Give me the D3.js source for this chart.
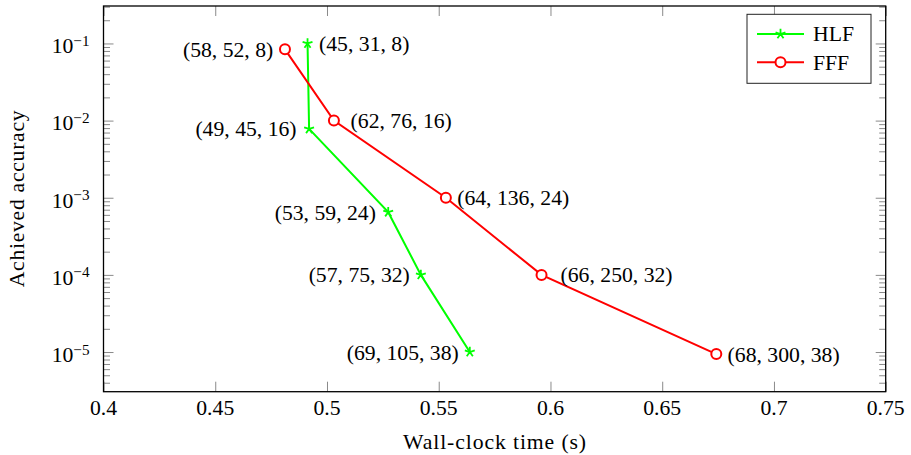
<!DOCTYPE html>
<html>
<head>
<meta charset="utf-8">
<script src="https://cdn.jsdelivr.net/npm/d3@7"></script>
<style>
	body { margin: 0; background: #fff; }
	svg text { font-family: "Liberation Serif", serif; fill: #000; }
</style>
</head>
<body>
<div id="chart"></div>
<script>
// wall-clock time vs achieved accuracy

var seriesNames = ["HLF", "FFF"];

var hlfTime = [0.4913, 0.4920, 0.5274, 0.5420, 0.5639];
var hlfAcc = [0.1, 0.0078, 6.5e-4, 1e-4, 1e-5];
var hlfLabels = ["(45, 31, 8)", "(49, 45, 16)", "(53, 59, 24)", "(57, 75, 32)", "(69, 105, 38)"];

var fffTime = [0.4812, 0.5031, 0.5532, 0.5960, 0.6742];
var fffAcc = [0.084, 0.01, 1e-3, 1e-4, 9.4e-6];
var fffLabels = ["(58, 52, 8)", "(62, 76, 16)", "(64, 136, 24)", "(66, 250, 32)", "(68, 300, 38)"];

var xTicks = [0.4, 0.45, 0.5, 0.55, 0.6, 0.65, 0.7, 0.75];
var xTickLabels = ["0.4", "0.45", "0.5", "0.55", "0.6", "0.65", "0.7", "0.75"];
var yTickExps = [-1, -2, -3, -4, -5];

// label placement: side of the point and gap in px
var hlfSide = ["right", "left", "left", "left", "left"];
var hlfGap = [11.5, 12.5, 12.3, 11, 11];
var fffSide = ["left", "right", "right", "right", "right"];
var fffGap = [11.7, 16.7, 11.3, 19, 11.3];

function drawChart() {
	var width = 911,
		height = 455,
		left = 103.5,
		right = 885.7,
		top = 6,
		bottom = 391.7,
		fs = 21.7,
		majorLen = 10,
		minorLen = 6.5;

	var xs = d3.scaleLinear().domain([0.4, 0.75]).range([left, right]);
	var ys = d3.scaleLog().domain([3.06e-6, 0.306]).range([bottom, top]);

	var svg = d3.select("#chart")
		.append("svg")
		.attr("width", width)
		.attr("height", height)
		.style("background", "#fff");

	// minor + major y ticks
	var yMinor = [], yMajor = [];
	for (var k = -6; k <= 0; k++) {
		for (var m = 1; m <= 9; m++) {
			var v = m * Math.pow(10, k);
			if (v < ys.domain()[0] || v > ys.domain()[1]) continue;
			if (m == 1) yMajor.push(v); else yMinor.push(v);
		}
	}

	function styleTicks(g) {
		g.select(".domain").remove();
		g.selectAll("line").attr("stroke", "#8a8a8a").attr("stroke-width", 1);
		g.selectAll("text").remove();
	}

	svg.append("g").attr("transform", "translate(0," + bottom + ")")
		.call(d3.axisBottom(xs).tickValues(xTicks).tickSizeInner(-majorLen).tickSizeOuter(0))
		.call(styleTicks);
	svg.append("g").attr("transform", "translate(0," + top + ")")
		.call(d3.axisTop(xs).tickValues(xTicks).tickSizeInner(-majorLen).tickSizeOuter(0))
		.call(styleTicks);

	[[yMajor, majorLen], [yMinor, minorLen]].forEach(function(t) {
		svg.append("g").attr("transform", "translate(" + left + ",0)")
			.call(d3.axisLeft(ys).tickValues(t[0]).tickSizeInner(-t[1]).tickSizeOuter(0))
			.call(styleTicks);
		svg.append("g").attr("transform", "translate(" + right + ",0)")
			.call(d3.axisRight(ys).tickValues(t[0]).tickSizeInner(-t[1]).tickSizeOuter(0))
			.call(styleTicks);
	});

	// frame
	svg.append("rect")
		.attr("x", left)
		.attr("y", top)
		.attr("width", right - left)
		.attr("height", bottom - top)
		.attr("fill", "none")
		.attr("stroke", "#000")
		.attr("stroke-width", 1.3);

	// tick labels
	svg.selectAll("text.xt")
		.data(xTicks)
		.enter().append("text")
		.attr("class", "xt")
		.attr("x", function(d) { return xs(d); })
		.attr("y", 414.5)
		.attr("text-anchor", "middle")
		.attr("font-size", fs)
		.text(function(d, i) { return xTickLabels[i]; });

	var yt = svg.selectAll("text.yt")
		.data(yTickExps)
		.enter().append("text")
		.attr("class", "yt")
		.attr("x", 89.5)
		.attr("y", function(d) { return ys(Math.pow(10, d)) + 9.8; })
		.attr("text-anchor", "end")
		.attr("font-size", fs);
	yt.append("tspan").text("10");
	yt.append("tspan")
		.attr("dy", -7.3)
		.attr("font-size", 15.2)
		.text(function(d) { return "\u2212" + Math.abs(d); });

	// axis titles
	svg.append("text")
		.attr("x", (left + right) / 2)
		.attr("y", 448.5)
		.attr("text-anchor", "middle")
		.attr("font-size", fs)
		.attr("textLength", 183)
		.text("Wall-clock time (s)");

	svg.append("text")
		.attr("transform", "translate(24," + ((top + bottom) / 2) + ") rotate(-90)")
		.attr("text-anchor", "middle")
		.attr("font-size", fs)
		.attr("textLength", 177)
		.text("Achieved accuracy");

	var line = d3.line()
		.x(function(d) { return xs(d[0]); })
		.y(function(d) { return ys(d[1]); });

	var starPath = d3.symbol().type(function() {
		return {
			draw: function(ctx, size) {
				var r = 5.2;
				for (var i = 0; i < 5; i++) {
					var a = -Math.PI / 2 + i * 2 * Math.PI / 5;
					ctx.moveTo(0, 0);
					ctx.lineTo(r * Math.cos(a), r * Math.sin(a));
				}
			}
		};
	}());

	var series = [
		{name: seriesNames[0], x: hlfTime, y: hlfAcc, labels: hlfLabels, side: hlfSide, gap: hlfGap, color: "#00ff00", mark: "star"},
		{name: seriesNames[1], x: fffTime, y: fffAcc, labels: fffLabels, side: fffSide, gap: fffGap, color: "#ff0000", mark: "circle"}
	];

	function drawMark(g, s) {
		if (s.mark == "star") {
			g.append("path")
				.attr("d", starPath())
				.attr("fill", "none")
				.attr("stroke", s.color)
				.attr("stroke-width", 1.8);
		} else {
			g.append("circle")
				.attr("r", 5)
				.attr("fill", "#fff")
				.attr("stroke", s.color)
				.attr("stroke-width", 2);
		}
	}

	series.forEach(function(s) {
		var pts = s.x.map(function(d, i) { return [d, s.y[i]]; });

		svg.append("path")
			.datum(pts)
			.attr("d", line)
			.attr("fill", "none")
			.attr("stroke", s.color)
			.attr("stroke-width", 2);

		pts.forEach(function(p) {
			var g = svg.append("g")
				.attr("transform", "translate(" + xs(p[0]) + "," + ys(p[1]) + ")");
			drawMark(g, s);
		});

		svg.selectAll(null)
			.data(pts)
			.enter().append("text")
			.attr("x", function(d, i) { return xs(d[0]) + (s.side[i] == "right" ? s.gap[i] : -s.gap[i]); })
			.attr("y", function(d) { return ys(d[1]) + 7.5; })
			.attr("text-anchor", function(d, i) { return s.side[i] == "right" ? "start" : "end"; })
			.attr("font-size", fs)
			.text(function(d, i) { return s.labels[i]; });
	});

	// legend
	var lg = svg.append("g");
	lg.append("rect")
		.attr("x", 747)
		.attr("y", 14.3)
		.attr("width", 124)
		.attr("height", 69)
		.attr("fill", "#fff")
		.attr("stroke", "#222")
		.attr("stroke-width", 1);

	series.forEach(function(s, i) {
		var ly = 34 + i * 28.3;
		lg.append("line")
			.attr("x1", 757)
			.attr("x2", 804)
			.attr("y1", ly)
			.attr("y2", ly)
			.attr("stroke", s.color)
			.attr("stroke-width", 2);
		drawMark(lg.append("g").attr("transform", "translate(780.5," + ly + ")"), s);
		lg.append("text")
			.attr("x", 813)
			.attr("y", ly + 7.3)
			.attr("font-size", fs)
			.text(s.name);
	});
}

drawChart();
</script>
</body>
</html>
